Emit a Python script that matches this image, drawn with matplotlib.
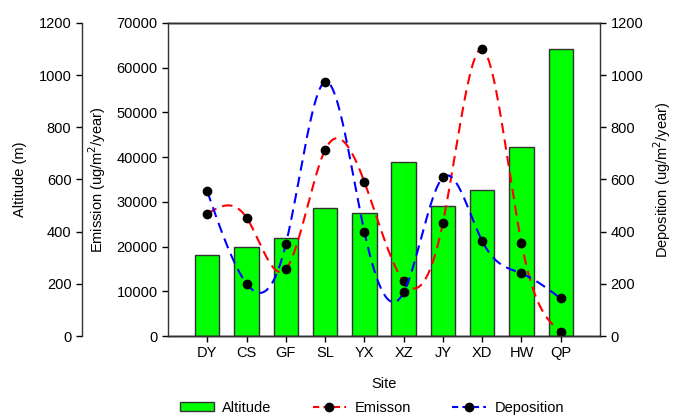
import numpy as np
import matplotlib.pyplot as plt
from matplotlib.patches import Patch
from matplotlib.lines import Line2D

plt.rcParams['font.family'] = ['Liberation Sans', 'DejaVu Sans']
plt.rcParams['font.size'] = 10.5

sites = ['DY', 'CS', 'GF', 'SL', 'YX', 'XZ', 'JY', 'XD', 'HW', 'QP']
altitude = [310, 341, 377, 490, 473, 668, 497, 561, 723, 1100]
emission = [27350, 26460, 14930, 41610, 34480, 12190, 25340, 64130, 20800, 960]
deposition = [554, 201, 352, 975, 400, 167, 608, 364, 240, 144]


def natural_spline(x, y, n=400):
    """Natural cubic spline through (x, y), evaluated on a dense grid."""
    x = np.asarray(x, float)
    y = np.asarray(y, float)
    k = len(x)
    h = np.diff(x)
    A = np.zeros((k, k))
    b = np.zeros(k)
    A[0, 0] = A[-1, -1] = 1.0
    for i in range(1, k - 1):
        A[i, i - 1] = h[i - 1]
        A[i, i] = 2 * (h[i - 1] + h[i])
        A[i, i + 1] = h[i]
        b[i] = 6 * ((y[i + 1] - y[i]) / h[i] - (y[i] - y[i - 1]) / h[i - 1])
    m = np.linalg.solve(A, b)
    xs = np.linspace(x[0], x[-1], n)
    idx = np.clip(np.searchsorted(x, xs) - 1, 0, k - 2)
    x0, x1 = x[idx], x[idx + 1]
    hh = x1 - x0
    t0, t1 = x1 - xs, xs - x0
    ys = (m[idx] * t0 ** 3 + m[idx + 1] * t1 ** 3) / (6 * hh) \
        + (y[idx] / hh - m[idx] * hh / 6) * t0 \
        + (y[idx + 1] / hh - m[idx + 1] * hh / 6) * t1
    return xs, ys


pos = np.arange(len(sites))

fig, ax = plt.subplots(figsize=(6.74, 4.17), dpi=100)
fig.subplots_adjust(left=168 / 674, right=600 / 674, top=1 - 23 / 417, bottom=1 - 336 / 417)

edge = '#333333'
dot = 6

# altitude bars on the base axes, its spine pushed out to the far left
ax.bar(pos, altitude, width=0.62, color='#00ff00', edgecolor=edge, linewidth=1.0)
ax.set_xlim(-1, len(sites))
ax.set_ylim(0, 1200)
ax.set_yticks(np.arange(0, 1201, 200))
ax.spines['left'].set_position(('outward', 62))
ax.spines['right'].set_visible(False)
ax.set_xticks(pos)
ax.set_xticklabels(sites)
ax.set_xlabel('Site', labelpad=12)
ax.set_ylabel('Altitude (m)', labelpad=8)

# emission on the inner left axis
ax_em = ax.twinx()
ax_em.yaxis.tick_left()
ax_em.yaxis.set_label_position('left')
ax_em.spines['left'].set_visible(True)
ax_em.spines['right'].set_visible(False)
ax_em.set_ylim(0, 70000)
ax_em.set_yticks(np.arange(0, 70001, 10000))
ax_em.set_ylabel('Emission (ug/m$^2$/year)', labelpad=6)
xs, ys = natural_spline(pos, emission)
ax_em.plot(xs, ys, color='red', linestyle=(0, (5, 3)), linewidth=1.5)
ax_em.plot(pos, emission, 'o', color='black', markersize=dot)

# deposition on the right axis
ax_dep = ax.twinx()
ax_dep.set_ylim(0, 1200)
ax_dep.set_yticks(np.arange(0, 1201, 200))
ax_dep.set_ylabel('Deposition (ug/m$^2$/year)', labelpad=6)
xs, ys = natural_spline(pos, deposition)
ax_dep.plot(xs, ys, color='blue', linestyle=(0, (5, 3)), linewidth=1.5)
ax_dep.plot(pos, deposition, 'o', color='black', markersize=dot)
ax_dep.spines['left'].set_visible(False)

for a in (ax, ax_em, ax_dep):
    a.tick_params(direction='out', length=4, width=1, colors='black', labelsize=10.5)
    for s in a.spines.values():
        s.set_color(edge)
        s.set_linewidth(1.0)

handles = [
    Patch(facecolor='#00ff00', edgecolor=edge, linewidth=1.0),
    Line2D([], [], color='red', linestyle=(0, (3, 2)), linewidth=1.5,
           marker='o', markerfacecolor='black', markeredgecolor='black', markersize=dot),
    Line2D([], [], color='blue', linestyle=(0, (3, 2)), linewidth=1.5,
           marker='o', markerfacecolor='black', markeredgecolor='black', markersize=dot),
]
fig.legend(handles, ['Altitude', 'Emisson', 'Deposition'], loc='center',
           bbox_to_anchor=(372 / 674, 1 - 408 / 417), ncol=3, frameon=False,
           handlelength=2.3, handleheight=0.6, handletextpad=0.6, columnspacing=2.8)

fig.savefig('out.png', dpi=100)
